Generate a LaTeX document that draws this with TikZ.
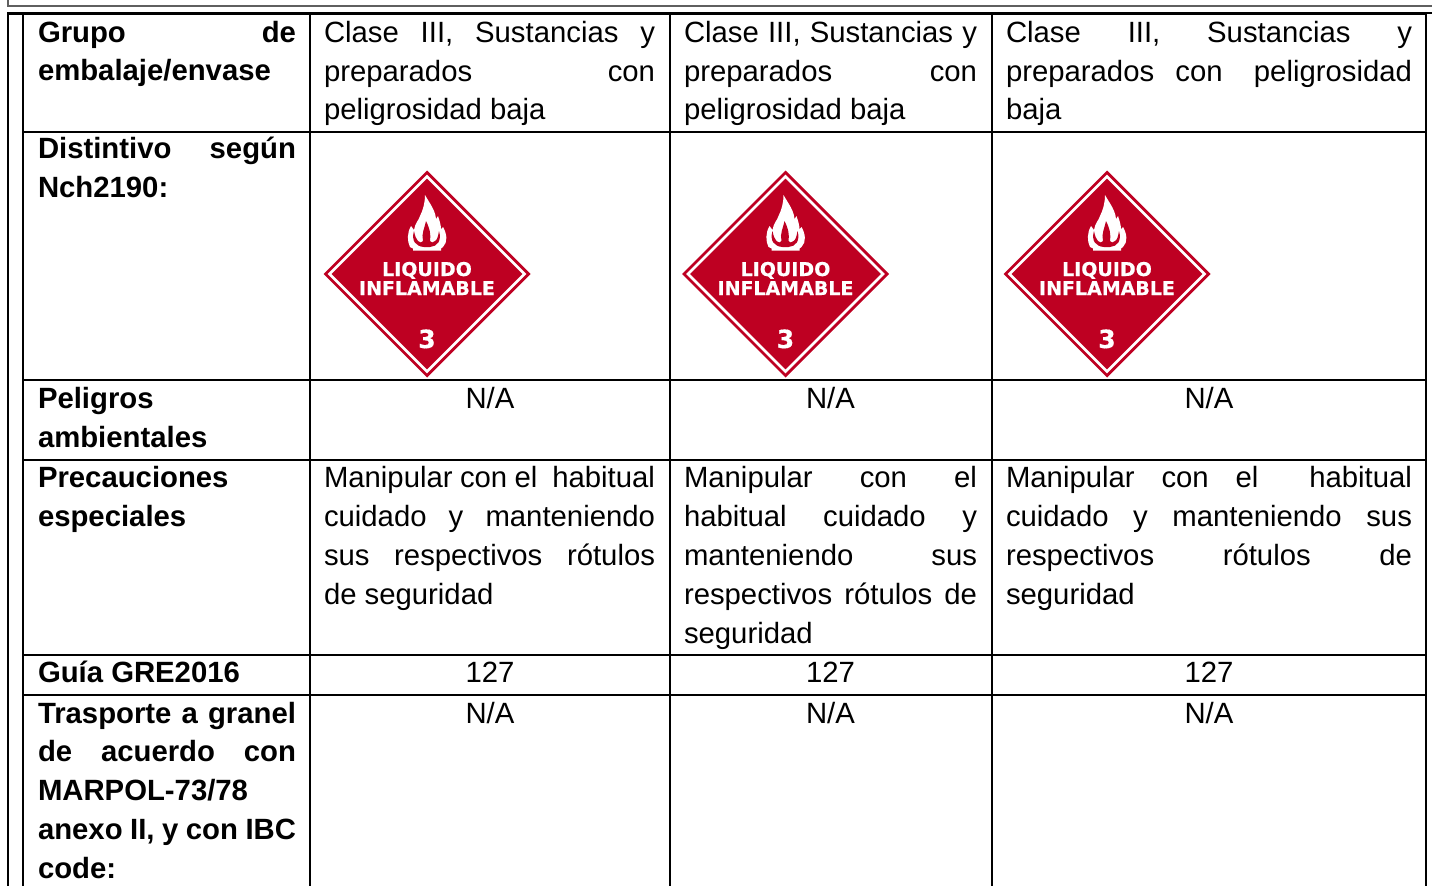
\documentclass[tikz,border=0pt]{standalone}
\usepackage{fontspec}
\setmainfont{Liberation Sans}
\newfontfamily\plfont{DejaVu Sans Bold}[FakeBold=0.5]
\definecolor{plred}{HTML}{BE0022}
\definecolor{boxgray}{HTML}{5F5F5F}
\tikzset{
  x=1pt,y=-1pt,
  txt/.style={inner sep=0pt,outer sep=0pt,font=\fontsize{29.3}{39}\selectfont,text=black},
  ltxt/.style={txt,anchor=base west},
  ctxt/.style={txt,anchor=base},
  btxt/.style={ltxt,font=\fontsize{29.3}{39}\selectfont\bfseries},
  rule/.style={line width=2pt,black},
  pltxt/.style={inner sep=0pt,outer sep=0pt,anchor=base,text=white,font=\plfont\fontsize{19}{19}\selectfont},
  plnum/.style={inner sep=0pt,outer sep=0pt,anchor=base,text=white,font=\plfont\fontsize{25}{25}\selectfont},
}
\newcommand{\jl}[6][ltxt]{\node[#1] (#2) at (#3,#4) {\makebox[#5pt][s]{#6}};}
\newcommand{\placard}[2]{%
  \begin{scope}[shift={(#2,274)}]
    \fill[plred] (0,-103.5) -- (103.5,0) -- (0,103.5) -- (-103.5,0) -- cycle;
    \draw[white,line width=2.6pt,miter limit=10] (0,-97.5) -- (97.5,0) -- (0,97.5) -- (-97.5,0) -- cycle;
    % flame
    \fill[white] (-17,-27) .. controls (-20,-33) and (-20,-41) .. (-16,-48) -- (-13,-44) .. controls (-12,-51) and (-8,-54) .. (-7,-58) .. controls (-4,-64) and (-2,-71) .. (-2,-79)
      .. controls (2,-72) and (5,-68) .. (7,-63) .. controls (8,-60) and (9,-58) .. (9,-55) -- (11,-58) .. controls (13,-52) and (14,-48) .. (14,-45) -- (16,-47)
      .. controls (20,-40) and (21,-32) .. (16,-27) -- (14,-25.5) -- (14,-23.5) -- (-14,-23.5) -- (-14,-25.5) -- cycle;
    \fill[plred] (-13,-43) .. controls (-16,-33) and (-11,-27.5) .. (-3,-27) -- (3,-27) .. controls (10,-27.5) and (15,-33) .. (12,-43)
      .. controls (11,-37) and (10,-34) .. (8,-33) .. controls (6,-31) and (4,-31) .. (3,-33) .. controls (4,-39) and (3,-45) .. (-1,-53)
      .. controls (-2,-47) and (-6,-40) .. (-4,-33) .. controls (-5,-31) and (-7,-31) .. (-9,-33) .. controls (-11,-35) and (-12,-38) .. (-13,-43) -- cycle;
  \end{scope}
  \node[pltxt] (liq#1) at (#2,276) {LIQUIDO};
  \node[pltxt] (inf#1) at (#2,295) {INFLAMABLE};
  \node[plnum] (num#1) at (#2,348) {3};
}
\begin{document}
\begin{tikzpicture}
\useasboundingbox (0,0) rectangle (1432,886);
\fill[white] (0,0) rectangle (1432,886);
% page frame
\draw[boxgray,line width=2pt] (8,-4) -- (8,6) -- (1436,6);
\draw[black,line width=3pt] (7,13.5) -- (1426,13.5);
\draw[black,line width=1.6pt] (1426,12.8) -- (1432,12.8);
\draw[rule] (8,13) -- (8,886);
\draw[rule] (23,13) -- (23,886);
\draw[rule] (310,13) -- (310,886);
\draw[rule] (670,13) -- (670,886);
\draw[rule] (992,13) -- (992,886);
\draw[rule] (1426,13) -- (1426,886);
\draw[rule] (23,132) -- (1426,132);
\draw[rule] (23,380) -- (1426,380);
\draw[rule] (23,459.5) -- (1426,459.5);
\draw[rule] (23,655) -- (1426,655);
\draw[rule] (23,695) -- (1426,695);
% labels
\jl[btxt]{a1}{38}{42}{258}{Grupo de}
\node[btxt] (a2) at (38,80) {embalaje/envase};
\jl[btxt]{b1}{38}{158.5}{258}{Distintivo según}
\node[btxt] (b2) at (38,197.5) {Nch2190:};
\node[btxt] (c1) at (38,408) {Peligros};
\node[btxt] (c2) at (38,447) {ambientales};
\node[btxt] (d1) at (38,487) {Precauciones};
\node[btxt] (d2) at (38,526) {especiales};
\node[btxt] (e1) at (38,682) {Guía GRE2016};
\jl[btxt]{f1}{38}{723}{258}{Trasporte a granel}
\jl[btxt]{f2}{38}{761}{258}{de acuerdo con}
\node[btxt] (f3) at (38,800) {MARPOL-73/78};
\jl[btxt]{f4}{38}{839}{258}{anexo II, y con IBC}
\node[btxt] (f5) at (38,878) {code:};
% row 1
\jl{g1}{324}{42}{331}{Clase III, Sustancias y}
\jl{g2}{324}{81}{331}{preparados con}
\node[ltxt] (g3) at (324,119) {peligrosidad baja};
\jl{h1}{684}{42}{293}{Clase III, Sustancias y}
\jl{h2}{684}{81}{293}{preparados con}
\node[ltxt] (h3) at (684,119) {peligrosidad baja};
\jl{i1}{1006}{42}{406}{Clase III, Sustancias y}
\jl{i2}{1006}{81}{406}{preparados con\hspace{10pt} peligrosidad}
\node[ltxt] (i3) at (1006,119) {baja};
% placards
\placard{A}{427}
\placard{B}{785.5}
\placard{C}{1107}
% N/A
\node[ctxt] (j1) at (490,408) {N/A};
\node[ctxt] (j2) at (830.5,408) {N/A};
\node[ctxt] (j3) at (1209,408) {N/A};
% row precauciones
\jl{k1}{324}{487}{331}{Manipular con el \ habitual}
\jl{k2}{324}{526}{331}{cuidado y manteniendo}
\jl{k3}{324}{565}{331}{sus respectivos rótulos}
\node[ltxt] (k4) at (324,604) {de seguridad};
\jl{l1}{684}{487}{293}{Manipular con el}
\jl{l2}{684}{526}{293}{habitual cuidado y}
\jl{l3}{684}{565}{293}{manteniendo sus}
\jl{l4}{684}{604}{293}{respectivos rótulos de}
\node[ltxt] (l5) at (684,643) {seguridad};
\jl{m1}{1006}{487}{406}{Manipular con el\hspace{24pt} habitual}
\jl{m2}{1006}{526}{406}{cuidado y manteniendo sus}
\jl{m3}{1006}{565}{406}{respectivos rótulos de}
\node[ltxt] (m4) at (1006,604) {seguridad};
% guia
\node[ctxt] (n1) at (490,682) {127};
\node[ctxt] (n2) at (830.5,682) {127};
\node[ctxt] (n3) at (1209,682) {127};
% transporte
\node[ctxt] (o1) at (490,723) {N/A};
\node[ctxt] (o2) at (830.5,723) {N/A};
\node[ctxt] (o3) at (1209,723) {N/A};
\end{tikzpicture}
\end{document}
